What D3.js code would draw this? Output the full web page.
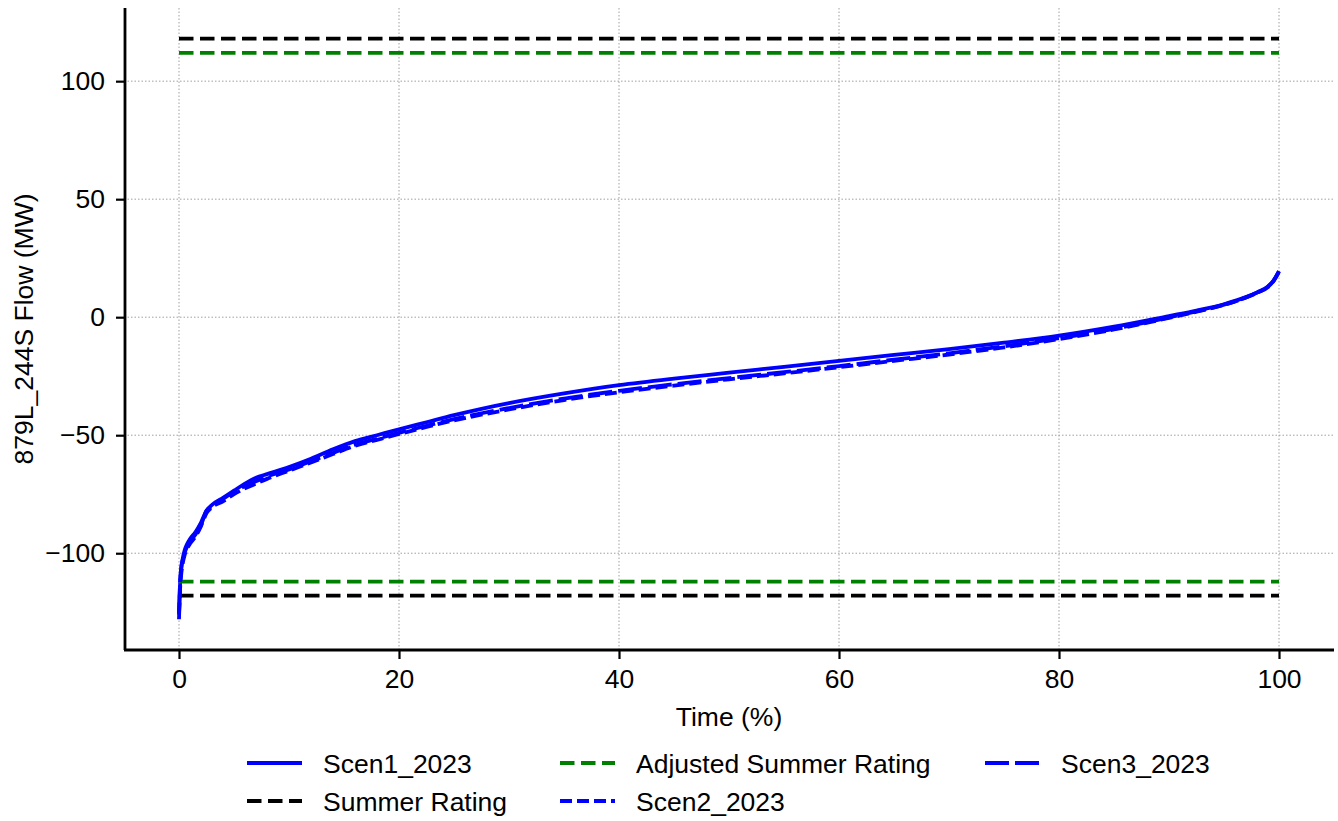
<!DOCTYPE html>
<html><head><meta charset="utf-8">
<script src="https://cdn.jsdelivr.net/npm/d3@7"></script>
<style>
html,body{margin:0;padding:0;background:#fff;}
svg text{font-family:"Liberation Sans",Arial,sans-serif;fill:#000;}
</style></head>
<body><svg id="chart" width="1338" height="821"></svg>
<script>
// ---- data ----
const timePct = [0,0.05,0.1,0.2,0.35,0.5,0.75,1,1.5,2,2.5,3,4,5,6,7,8,10,12,14,16,18,20,22.5,25,27.5,30,35,40,45,50,55,60,65,70,75,80,85,90,92.5,95,97,98,99,99.5,100];
const scen1 = [-128,-120,-113,-107,-102,-99,-96,-94,-91,-87,-82,-79.5,-76.5,-73.5,-70.5,-68,-66.5,-63.5,-60,-56,-52.5,-50,-47.5,-44.5,-41.5,-38.8,-36.4,-32.3,-28.8,-26,-23.5,-21,-18.5,-16,-13.5,-10.8,-7.8,-4,0.5,2.8,5.5,8.5,10.5,13,15.5,19.5];
const scen2 = [-126,-121,-115,-109,-104,-101,-98,-96,-93,-88.5,-83,-80.5,-78,-75,-72.5,-70.5,-68.5,-65,-61.5,-58,-54.5,-52,-49.5,-46.5,-43.7,-41.3,-39.1,-35.1,-31.8,-29,-26.3,-23.8,-21.2,-18.5,-15.8,-12.8,-9.3,-5.2,-0.3,2.3,5.2,8.3,10.3,12.8,15.3,19.3];
const scen3 = [-125,-118,-112,-106,-102.5,-100,-97,-95,-92,-88,-82,-80,-77,-74,-71.5,-69.5,-67.5,-64.5,-61,-57.5,-54,-51.5,-49,-46,-43.2,-40.7,-38.5,-34.5,-31.2,-28.4,-25.8,-23.3,-20.7,-18,-15.3,-12.3,-8.9,-4.9,-0.1,2.5,5.3,8.4,10.4,12.9,15.4,19.4];
const summerRating = 118;
const adjustedRating = 112;
const xTicks = [0,20,40,60,80,100];
const yTicks = [-100,-50,0,50,100];
const xLabel = "Time (%)";
const yLabel = "879L_244S Flow (MW)";

// ---- layout ----
const svg = d3.select("#chart");
const L = 124, R = 1334, T = 8, B = 650;
const x = d3.scaleLinear().domain([-5,105]).range([L,R]);
const y = d3.scaleLinear().domain([-141,131]).range([B,T]);
const fs = 26.5;
const lw = 3.8;

// grid
const g = svg.append("g");
g.selectAll(".gx").data(xTicks).join("line")
  .attr("x1",d=>x(d)).attr("x2",d=>x(d)).attr("y1",T).attr("y2",B)
  .attr("stroke","#a0a0a0").attr("stroke-width",1).attr("stroke-dasharray","1.5,2");
g.selectAll(".gy").data(yTicks).join("line")
  .attr("y1",d=>y(d)).attr("y2",d=>y(d)).attr("x1",L).attr("x2",R)
  .attr("stroke","#a0a0a0").attr("stroke-width",1).attr("stroke-dasharray","1.5,2");

const line = d3.line().x(d=>x(d[0])).y(d=>y(d[1])).curve(d3.curveMonotoneX);
const toPts = arr => timePct.map((t,i)=>[t,arr[i]]);

const series = [
  {name:"Scen1_2023", pts:[toPts(scen1)], color:"#0000ff", dash:null},
  {name:"Summer Rating", pts:[[[0,summerRating],[100,summerRating]],[[0,-summerRating],[100,-summerRating]]], color:"#000000", dash:"14.5,6.5"},
  {name:"Adjusted Summer Rating", pts:[[[0,adjustedRating],[100,adjustedRating]],[[0,-adjustedRating],[100,-adjustedRating]]], color:"#008000", dash:"14.5,6.5"},
  {name:"Scen2_2023", pts:[toPts(scen2)], color:"#0000ff", dash:"12,5"},
  {name:"Scen3_2023", pts:[toPts(scen3)], color:"#0000ff", dash:"24,6"}
];

series.forEach(s=>{
  s.pts.forEach(p=>{
    svg.append("path").attr("d",line(p)).attr("fill","none")
      .attr("stroke",s.color).attr("stroke-width",lw)
      .attr("stroke-dasharray",s.dash)
      .attr("stroke-linejoin","round");
  });
});

// axes
const xAxis = d3.axisBottom(x).tickValues(xTicks).tickSize(9).tickPadding(10).tickFormat(d3.format("d"));
const yAxis = d3.axisLeft(y).tickValues(yTicks).tickSize(9).tickPadding(11).tickFormat(d=>d<0?"\u2212"+Math.abs(d):String(d));
const gx = svg.append("g").attr("transform",`translate(0,${B})`).call(xAxis);
const gy = svg.append("g").attr("transform",`translate(${L+1},0)`).call(yAxis);
[gx,gy].forEach(a=>{
  a.select(".domain").attr("stroke","#000").attr("stroke-width",2.8);
  a.selectAll(".tick line").attr("stroke","#000").attr("stroke-width",2.2);
  a.selectAll("text").attr("font-size",fs).attr("font-family","Liberation Sans, Arial, sans-serif").attr("fill","#000");
});
gx.select(".domain").attr("d",`M${L},0H${R}`);
gy.select(".domain").attr("d",`M0,${T}V${B}`);

svg.append("text").attr("x",(x(-5)+x(105))/2).attr("y",726).attr("text-anchor","middle").attr("font-size",fs).text(xLabel);
svg.append("text").attr("transform",`translate(33,${(T+B)/2}) rotate(-90)`).attr("text-anchor","middle").attr("font-size",fs).text(yLabel);

// legend (2 rows, column-major)
const colX = [247,560,985];
const rowY = [763,801];
series.forEach((s,i)=>{
  const c = Math.floor(i/2), r = i%2;
  const lx = colX[c], ly = rowY[r];
  svg.append("line").attr("x1",lx).attr("x2",lx+55).attr("y1",ly).attr("y2",ly)
    .attr("stroke",s.color).attr("stroke-width",lw).attr("stroke-dasharray",s.dash);
  svg.append("text").attr("x",lx+76).attr("y",ly+9.5).attr("font-size",fs).text(s.name);
});
</script></body></html>
